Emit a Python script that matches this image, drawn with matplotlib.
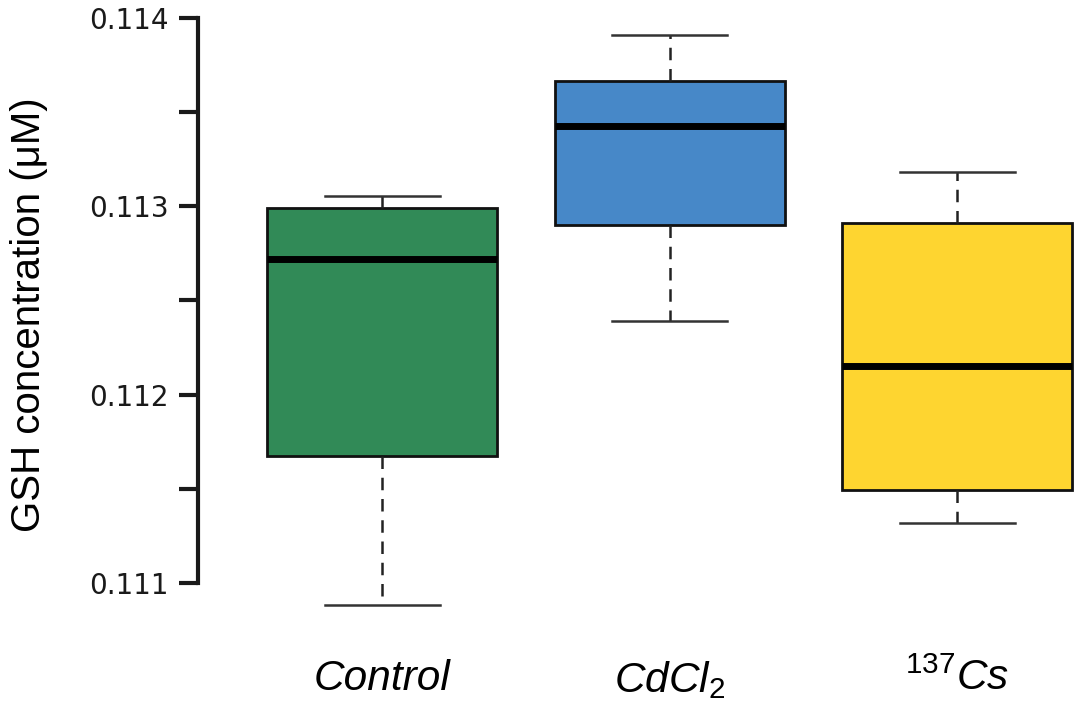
import matplotlib
matplotlib.use("Agg")
import matplotlib.pyplot as plt
from matplotlib.ticker import MultipleLocator

groups = ["Control", "$\\mathit{CdCl}_{2}$", "$^{137}\\mathit{Cs}$"]
q1 = [0.111674, 0.112901, 0.111494]
medians = [0.112720, 0.113427, 0.112152]
q3 = [0.112991, 0.113665, 0.112911]
whisker_low = [0.110883, 0.112391, 0.111319]
whisker_high = [0.113055, 0.113910, 0.113182]
colors = ["#318a57", "#4788c8", "#fed530"]

plt.rcParams["mathtext.fontset"] = "custom"
plt.rcParams["mathtext.it"] = "Liberation Sans:italic"
plt.rcParams["mathtext.rm"] = "Liberation Sans"

fig = plt.figure(figsize=(10.78, 7.10), dpi=100)
ax = fig.add_axes([198 / 1078, 1 - 620 / 710, 1 - 198 / 1078, 610 / 710])

stats = []
for i in range(len(groups)):
    stats.append({
        "med": medians[i], "q1": q1[i], "q3": q3[i],
        "whislo": whisker_low[i], "whishi": whisker_high[i],
        "fliers": [], "label": groups[i],
    })

bp = ax.bxp(stats, positions=[0, 1, 2], widths=0.8, patch_artist=True,
            showfliers=False,
            boxprops=dict(linewidth=2.0, edgecolor="#111111"),
            medianprops=dict(color="black", linewidth=5, solid_capstyle="butt"),
            whiskerprops=dict(color="#222222", linewidth=1.8, linestyle=(0, (5, 3.5))),
            capprops=dict(color="#333333", linewidth=1.8),
            capwidths=0.4)
for patch, c in zip(bp["boxes"], colors):
    patch.set_facecolor(c)

ax.set_xlim(-0.64, 2.42)
ax.set_ylim(0.1108035, 0.1140425)
ax.yaxis.set_minor_locator(MultipleLocator(0.0005))
ax.set_yticks([0.111, 0.112, 0.113, 0.114])
ax.set_yticklabels(["0.111", "0.112", "0.113", "0.114"])

for s in ["top", "right", "bottom"]:
    ax.spines[s].set_visible(False)
ax.spines["left"].set_bounds(0.111, 0.114)
ax.spines["left"].set_linewidth(3)
ax.spines["left"].set_color("#1a1a1a")
ax.spines["left"].set_capstyle("projecting")

ax.tick_params(axis="y", which="both", length=14, width=3, color="#1a1a1a",
               labelsize=20, pad=7, labelcolor="#1a1a1a")
ax.tick_params(axis="x", length=0, pad=28)
for lbl in ax.get_xticklabels():
    lbl.set_fontsize(30.5)
    lbl.set_fontfamily("Liberation Sans")
    lbl.set_fontstyle("italic")

ax.set_ylabel("GSH concentration (\u03bcM)", fontsize=29,
              family=["Liberation Sans Narrow", "Liberation Sans"], labelpad=30)

fig.savefig("out.png", dpi=100)
